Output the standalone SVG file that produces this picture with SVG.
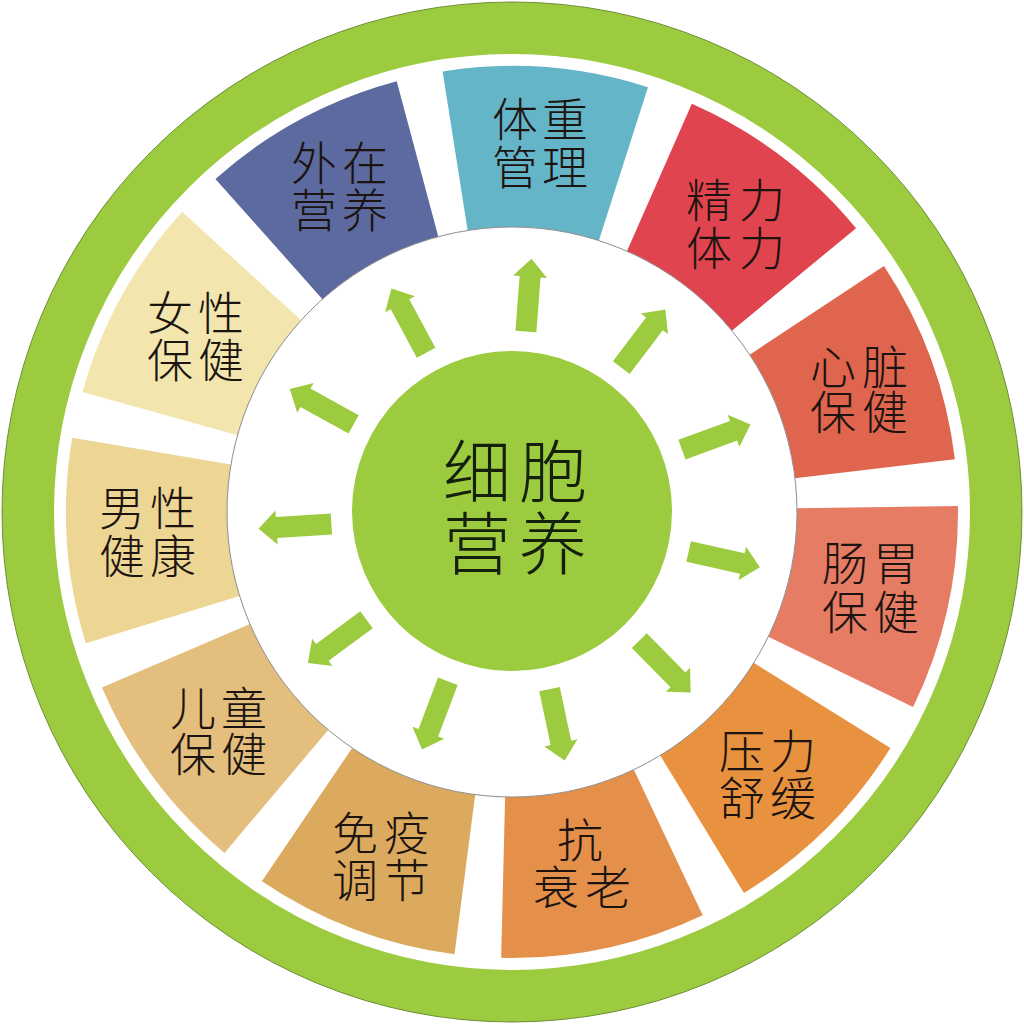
<svg xmlns="http://www.w3.org/2000/svg" xmlns:xlink="http://www.w3.org/1999/xlink" width="1024" height="1024" viewBox="0 0 1024 1024">
<style>
.lbl{font-family:"Noto Sans CJK SC","Noto Sans CJK TC",sans-serif;font-size:46px;font-weight:300;fill:#1c1410;text-anchor:middle}
.ctr{font-family:"Noto Sans CJK SC","Noto Sans CJK TC",sans-serif;font-size:68px;font-weight:300;fill:#15200c;text-anchor:middle}
.green{fill:#9ccb3f}
</style>
<defs>
<path id="seg" d="M -102.99 -433.95 A 446 446 0 0 1 102.99 -433.95 L 65.81 -277.30 A 285 285 0 0 0 -65.81 -277.30 Z"/>
<path id="arrow" d="M -10.5 -181 L -10.5 -236 L -17 -236 L 0 -254 L 17 -236 L 10.5 -236 L 10.5 -181 Z"/>
</defs>
<rect width="1024" height="1024" fill="#ffffff"/>
<g id="outer-ring">
<circle cx="512" cy="512" r="484" fill="none" stroke="#9ccb3f" stroke-width="52"/>
<circle cx="512" cy="512" r="510" fill="none" stroke="#6f8f3a" stroke-width="1"/>
</g>
<g id="node-weight">
<use xlink:href="#seg" transform="translate(512 512) rotate(4.4)" fill="#65b5c9"/>
<text class="lbl"><tspan x="515 565" y="135.5">体重</tspan><tspan x="515 565" y="183.5">管理</tspan></text>
</g>
<g id="node-energy">
<use xlink:href="#seg" transform="translate(512 512) rotate(37.13)" fill="#e0444f"/>
<text class="lbl"><tspan x="709 762" y="216.5">精力</tspan><tspan x="709 762" y="264.5">体力</tspan></text>
</g>
<g id="node-heart">
<use xlink:href="#seg" transform="translate(512 512) rotate(69.86)" fill="#e0654f"/>
<text class="lbl"><tspan x="833 885" y="383.5">心脏</tspan><tspan x="833 885" y="428.5">保健</tspan></text>
</g>
<g id="node-gut">
<use xlink:href="#seg" transform="translate(512 512) rotate(102.58)" fill="#e67c64"/>
<text class="lbl"><tspan x="845 896" y="579.5">肠胃</tspan><tspan x="845 896" y="628.5">保健</tspan></text>
</g>
<g id="node-stress">
<use xlink:href="#seg" transform="translate(512 512) rotate(135.31)" fill="#e8923f"/>
<text class="lbl"><tspan x="742 793" y="767.5">压力</tspan><tspan x="742 793" y="814.5">舒缓</tspan></text>
</g>
<g id="node-aging">
<use xlink:href="#seg" transform="translate(512 512) rotate(168.04)" fill="#e5904a"/>
<text class="lbl"><tspan x="580" y="856.5">抗</tspan><tspan x="556 608" y="903.5">衰老</tspan></text>
</g>
<g id="node-immune">
<use xlink:href="#seg" transform="translate(512 512) rotate(200.76)" fill="#dcaa5e"/>
<text class="lbl"><tspan x="355 407" y="849.5">免疫</tspan><tspan x="355 407" y="896.5">调节</tspan></text>
</g>
<g id="node-child">
<use xlink:href="#seg" transform="translate(512 512) rotate(233.49)" fill="#e3be7c"/>
<text class="lbl"><tspan x="193 244" y="724.5">儿童</tspan><tspan x="193 244" y="770.5">保健</tspan></text>
</g>
<g id="node-men">
<use xlink:href="#seg" transform="translate(512 512) rotate(266.22)" fill="#edd694"/>
<text class="lbl"><tspan x="122 173" y="524.5">男性</tspan><tspan x="122 173" y="572.5">健康</tspan></text>
</g>
<g id="node-women">
<use xlink:href="#seg" transform="translate(512 512) rotate(298.95)" fill="#f2e6ae"/>
<text class="lbl"><tspan x="170 221" y="329.5">女性</tspan><tspan x="170 221" y="376.5">保健</tspan></text>
</g>
<g id="node-beauty">
<use xlink:href="#seg" transform="translate(512 512) rotate(331.67)" fill="#5d6aa0"/>
<text class="lbl"><tspan x="314 365" y="179.5">外在</tspan><tspan x="314 365" y="226.5">营养</tspan></text>
</g>
<g id="inner-circle">
<circle cx="512" cy="512" r="285" fill="#ffffff" stroke="#8c8c8c" stroke-width="1"/>
</g>
<g id="connectors" class="green">
<use xlink:href="#arrow" transform="translate(512 512) rotate(4.4)"/>
<use xlink:href="#arrow" transform="translate(512 512) rotate(37.13)"/>
<use xlink:href="#arrow" transform="translate(512 512) rotate(69.86)"/>
<use xlink:href="#arrow" transform="translate(512 512) rotate(102.58)"/>
<use xlink:href="#arrow" transform="translate(512 512) rotate(135.31)"/>
<use xlink:href="#arrow" transform="translate(512 512) rotate(168.04)"/>
<use xlink:href="#arrow" transform="translate(512 512) rotate(200.76)"/>
<use xlink:href="#arrow" transform="translate(512 512) rotate(233.49)"/>
<use xlink:href="#arrow" transform="translate(512 512) rotate(266.22)"/>
<use xlink:href="#arrow" transform="translate(512 512) rotate(298.95)"/>
<use xlink:href="#arrow" transform="translate(512 512) rotate(331.67)"/>
</g>
<g id="node-center">
<circle cx="512" cy="511" r="160" fill="#9ccb3f"/>
<text class="ctr"><tspan x="477 553" y="496.8">细胞</tspan><tspan x="477 553" y="568.8">营养</tspan></text>
</g>
</svg>
